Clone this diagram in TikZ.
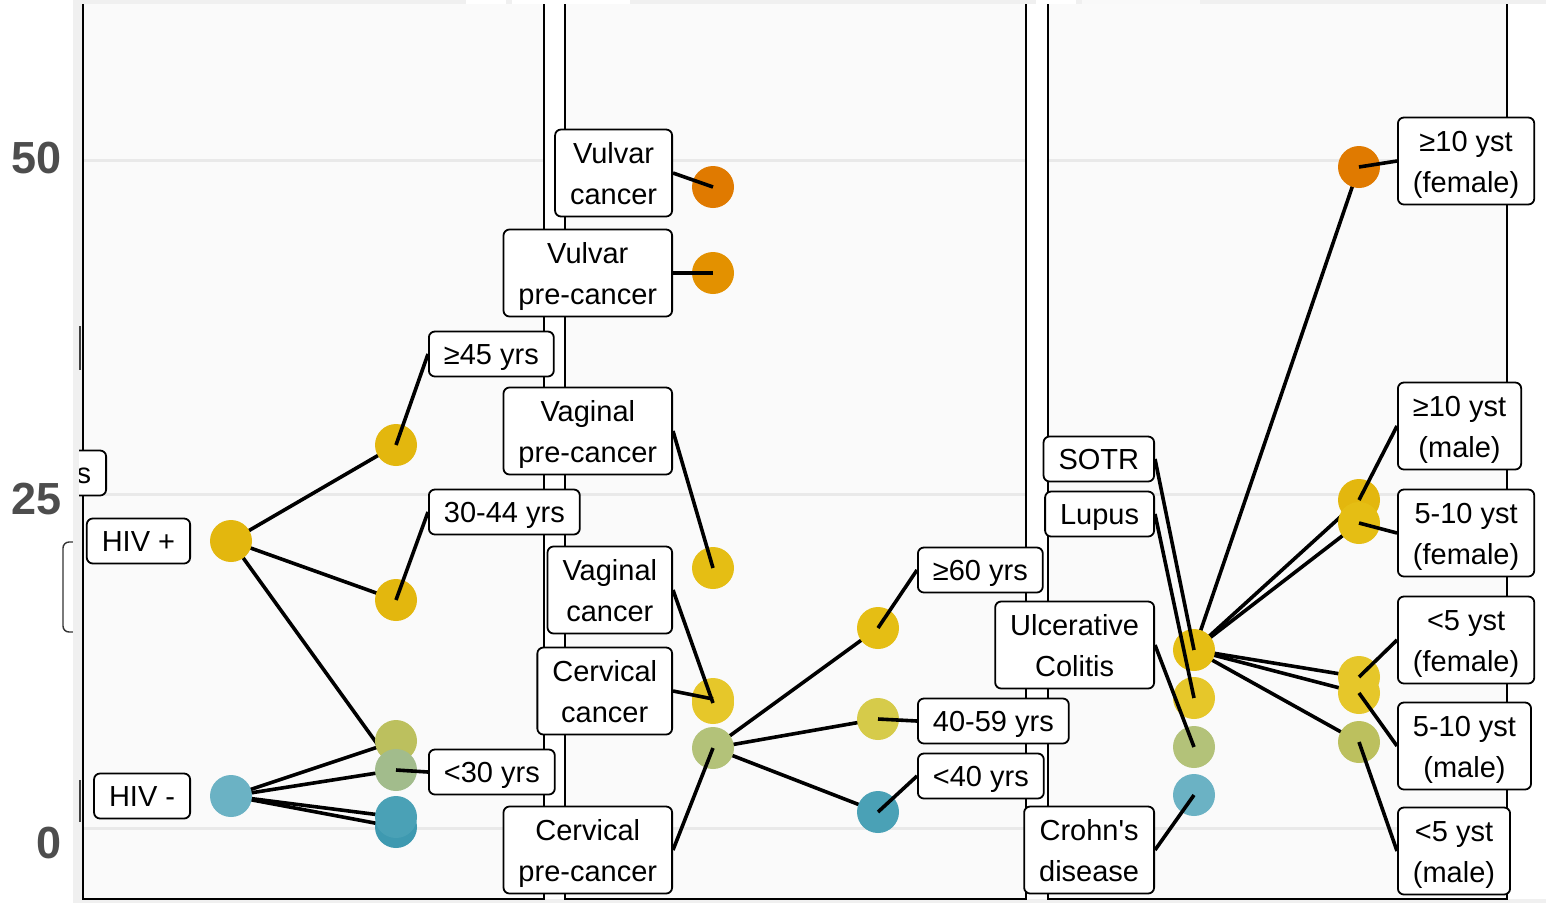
\documentclass[tikz,border=0pt]{standalone}
\usepackage{fontspec}
\setmainfont{Liberation Sans}
\usetikzlibrary{backgrounds}

\definecolor{panelbg}{HTML}{FAFAFA}
\definecolor{stripbg}{HTML}{F0F0F0}
\definecolor{gridc}{HTML}{E9E9E9}
\definecolor{axisc}{HTML}{4D4D4D}
\definecolor{cOrange}{HTML}{E07A00}
\definecolor{cAmber}{HTML}{E39100}
\definecolor{cGold}{HTML}{E3B70E}
\definecolor{cGoldb}{HTML}{E5BE14}
\definecolor{cYellow}{HTML}{E6C72A}
\definecolor{cKhaki}{HTML}{D6CB4A}
\definecolor{cOlive}{HTML}{BCC05E}
\definecolor{cSage}{HTML}{B3C279}
\definecolor{cMint}{HTML}{A2BC8C}
\definecolor{cSky}{HTML}{6BB2C4}
\definecolor{cTeal}{HTML}{4AA1B6}
\definecolor{cTealb}{HTML}{3E99B0}

\begin{document}
\begin{tikzpicture}[x=1pt, y=-1pt,
    dotnode/.style={shape=circle,inner sep=0pt,minimum size=42pt},
    lbl/.style={draw=black,fill=white,rounded corners=6pt,line width=1.8pt,
        font=\fontsize{29}{41}\selectfont,inner xsep=15pt,inner ysep=9pt,
        text height=24pt,text depth=3pt},
    lbltwo/.style={draw=black,fill=white,rounded corners=6pt,line width=1.8pt,
        font=\fontsize{29}{41}\selectfont,inner xsep=15pt,inner ysep=6.5pt,
        text height=68pt,text depth=6pt,align=center},
    branch/.style={line width=3.6pt},
    border/.style={line width=2.6pt}]
    \useasboundingbox (0,0) rectangle (1546,903);

    \begin{pgfonlayer}{background}
    \fill[white] (0,0) rectangle (1546,903);
    \draw[line width=1.4pt,draw=black!80,rounded corners=6pt] (63,542) rectangle (112,632);
    \fill[stripbg] (73,0) rectangle (1546,4);
    \fill[stripbg] (73,0) rectangle (83,903);
    \fill[stripbg] (73,899) rectangle (1546,903);
    \fill[white] (466,0) rectangle (506,4);
    \fill[white] (512,0) rectangle (630,4);
    \fill[white] (1036,0) rectangle (1076,4);
    \fill[white!60!stripbg] (1082,0) rectangle (1200,4);
    \draw[line width=2.5pt,draw=black!75] (80,326) -- (80,370);
    \draw[line width=2.5pt,draw=black!75] (80,780) -- (80,822);

    % panels
    \fill[panelbg] (83,4) rectangle (544,899);
    \fill[panelbg] (565,4) rectangle (1026,899);
    \fill[panelbg] (1048,4) rectangle (1507,899);
    \foreach \gy in {160,494,828} {
        \draw[gridc,line width=3pt] (84,\gy) -- (543,\gy);
        \draw[gridc,line width=3pt] (566,\gy) -- (1025,\gy);
        \draw[gridc,line width=3pt] (1049,\gy) -- (1506,\gy);
    }
    \draw[border] (83,4) -- (83,899) -- (544,899) -- (544,4);
    \draw[border] (565,4) -- (565,899) -- (1026,899) -- (1026,4);
    \draw[border] (1048,4) -- (1048,899) -- (1507,899) -- (1507,4);
    \end{pgfonlayer}

    \node[anchor=east,inner sep=0pt,text=axisc,font=\fontsize{45}{45}\selectfont\bfseries] (y50) at (62,158) {50};
    \node[anchor=east,inner sep=0pt,text=axisc,font=\fontsize{45}{45}\selectfont\bfseries] (y25) at (62,499) {25};
    \node[anchor=east,inner sep=0pt,text=axisc,font=\fontsize{45}{45}\selectfont\bfseries] (y0) at (62,843) {0};

    % HIV
    \node[dotnode,fill=cGold] (hivp) at (231,541) {};
    \node[dotnode,fill=cSky] (hivm) at (231,796) {};
    \node[dotnode,fill=cGold] (a45) at (396,445) {};
    \node[dotnode,fill=cGold] (a3044) at (396,600) {};
    \node[dotnode,fill=cOlive] (aolive) at (396,741) {};
    \node[dotnode,fill=cMint] (a30) at (396,770) {};
    \node[dotnode,fill=cTealb] (tb) at (396,827) {};
    \node[dotnode,fill=cTeal] (ta) at (396,817) {};

    % HPV-related
    \node[dotnode,fill=cOrange] (vc) at (713,187) {};
    \node[dotnode,fill=cAmber] (vpc) at (713,273) {};
    \node[dotnode,fill=cGoldb] (vgpc) at (713,568) {};
    \node[dotnode,fill=cYellow] (vgc) at (713,703) {};
    \node[dotnode,fill=cYellow] (cc) at (713,699) {};
    \node[dotnode,fill=cSage] (cpc) at (713,748) {};
    \node[dotnode,fill=cGoldb] (a60) at (878,628) {};
    \node[dotnode,fill=cKhaki] (a4059) at (878,719) {};
    \node[dotnode,fill=cTeal] (a40) at (878,812) {};

    % immunosuppression
    \node[dotnode,fill=cGoldb] (sotr) at (1194,650) {};
    \node[dotnode,fill=cYellow] (lupus) at (1194,698) {};
    \node[dotnode,fill=cSage] (uc) at (1194,747) {};
    \node[dotnode,fill=cSky] (crohn) at (1194,795) {};
    \node[dotnode,fill=cOrange] (f10) at (1359,167) {};
    \node[dotnode,fill=cGold] (m10) at (1359,500) {};
    \node[dotnode,fill=cGoldb] (f510) at (1359,523) {};
    \node[dotnode,fill=cYellow] (m510) at (1359,693) {};
    \node[dotnode,fill=cYellow] (f5) at (1359,677) {};
    \node[dotnode,fill=cOlive] (m5) at (1359,742) {};

    \begin{scope}
        \clip (79,440) rectangle (130,505);
        \node[lbl,anchor=east] (cutL) at (107,473) {s};
    \end{scope}

    \node[lbl,anchor=east] (hivpL) at (191,541) {HIV +};
    \node[lbl,anchor=east] (hivmL) at (191,796) {HIV -};
    \node[lbl,anchor=west] (a45L) at (428,354) {≥45 yrs};
    \node[lbl,anchor=west] (a3044L) at (428,512) {30-44 yrs};
    \node[lbl,anchor=west] (a30L) at (428,772) {<30 yrs};

    \node[lbltwo,anchor=east] (vcL) at (673,173) {Vulvar\\cancer};
    \node[lbltwo,anchor=east] (vpcL) at (673,273) {Vulvar\\pre-cancer};
    \node[lbltwo,anchor=east] (vgpcL) at (673,431) {Vaginal\\pre-cancer};
    \node[lbltwo,anchor=east] (vgcL) at (673,590) {Vaginal\\cancer};
    \node[lbltwo,anchor=east] (ccL) at (673,691) {Cervical\\cancer};
    \node[lbltwo,anchor=east] (cpcL) at (673,850) {Cervical\\pre-cancer};
    \node[lbl,anchor=west] (a60L) at (917,570) {≥60 yrs};
    \node[lbl,anchor=west] (a4059L) at (917,721) {40-59 yrs};
    \node[lbl,anchor=west] (a40L) at (917,776) {<40 yrs};

    \node[lbl,anchor=east] (sotrL) at (1155,459) {SOTR};
    \node[lbl,anchor=east] (lupusL) at (1155,514) {Lupus};
    \node[lbltwo,anchor=east] (ucL) at (1155,645) {Ulcerative\\Colitis};
    \node[lbltwo,anchor=east] (crohnL) at (1155,850) {Crohn\textquotesingle s\\disease};
    \node[lbltwo,anchor=west] (f10L) at (1397,161) {≥10 yst\\(female)};
    \node[lbltwo,anchor=west] (m10L) at (1397,426) {≥10 yst\\(male)};
    \node[lbltwo,anchor=west] (f510L) at (1397,533) {5-10 yst\\(female)};
    \node[lbltwo,anchor=west] (f5L) at (1397,640) {<5 yst\\(female)};
    \node[lbltwo,anchor=west] (m510L) at (1397,746) {5-10 yst\\(male)};
    \node[lbltwo,anchor=west] (m5L) at (1397,851) {<5 yst\\(male)};

    \begin{pgfonlayer}{background}
    \draw[branch] (hivp.center) -- (a45.center);
    \draw[branch] (hivp.center) -- (a3044.center);
    \draw[branch] (hivp.center) -- (a30.center);
    \draw[branch] (hivm.center) -- (aolive.center);
    \draw[branch] (hivm.center) -- (a30.center);
    \draw[branch] (hivm.center) -- (ta.center);
    \draw[branch] (hivm.center) -- (tb.center);

    \draw[branch] (cpc.center) -- (a60.center);
    \draw[branch] (cpc.center) -- (a4059.center);
    \draw[branch] (cpc.center) -- (a40.center);

    \draw[branch] (sotr.center) -- (f10.center);
    \draw[branch] (sotr.center) -- (m10.center);
    \draw[branch] (sotr.center) -- (f510.center);
    \draw[branch] (sotr.center) -- (f5.center);
    \draw[branch] (sotr.center) -- (m510.center);
    \draw[branch] (sotr.center) -- (m5.center);
    \end{pgfonlayer}

    \draw[branch] (a45.center) -- (a45L.west);
    \draw[branch] (a3044.center) -- (a3044L.west);
    \draw[branch] (a30.center) -- (a30L.west);

    \draw[branch] (vc.center) -- (vcL.east);
    \draw[branch] (vpc.center) -- (vpcL.east);
    \draw[branch] (vgpc.center) -- (vgpcL.east);
    \draw[branch] (vgc.center) -- (vgcL.east);
    \draw[branch] (cc.center) -- (ccL.east);
    \draw[branch] (cpc.center) -- (cpcL.east);
    \draw[branch] (a60.center) -- (a60L.west);
    \draw[branch] (a4059.center) -- (a4059L.west);
    \draw[branch] (a40.center) -- (a40L.west);

    \draw[branch] (sotr.center) -- (sotrL.east);
    \draw[branch] (lupus.center) -- (lupusL.east);
    \draw[branch] (uc.center) -- (ucL.east);
    \draw[branch] (crohn.center) -- (crohnL.east);
    \draw[branch] (f10.center) -- (f10L.west);
    \draw[branch] (m10.center) -- (m10L.west);
    \draw[branch] (f510.center) -- (f510L.west);
    \draw[branch] (f5.center) -- (f5L.west);
    \draw[branch] (m510.center) -- (m510L.west);
    \draw[branch] (m5.center) -- (m5L.west);
\end{tikzpicture}
\end{document}
